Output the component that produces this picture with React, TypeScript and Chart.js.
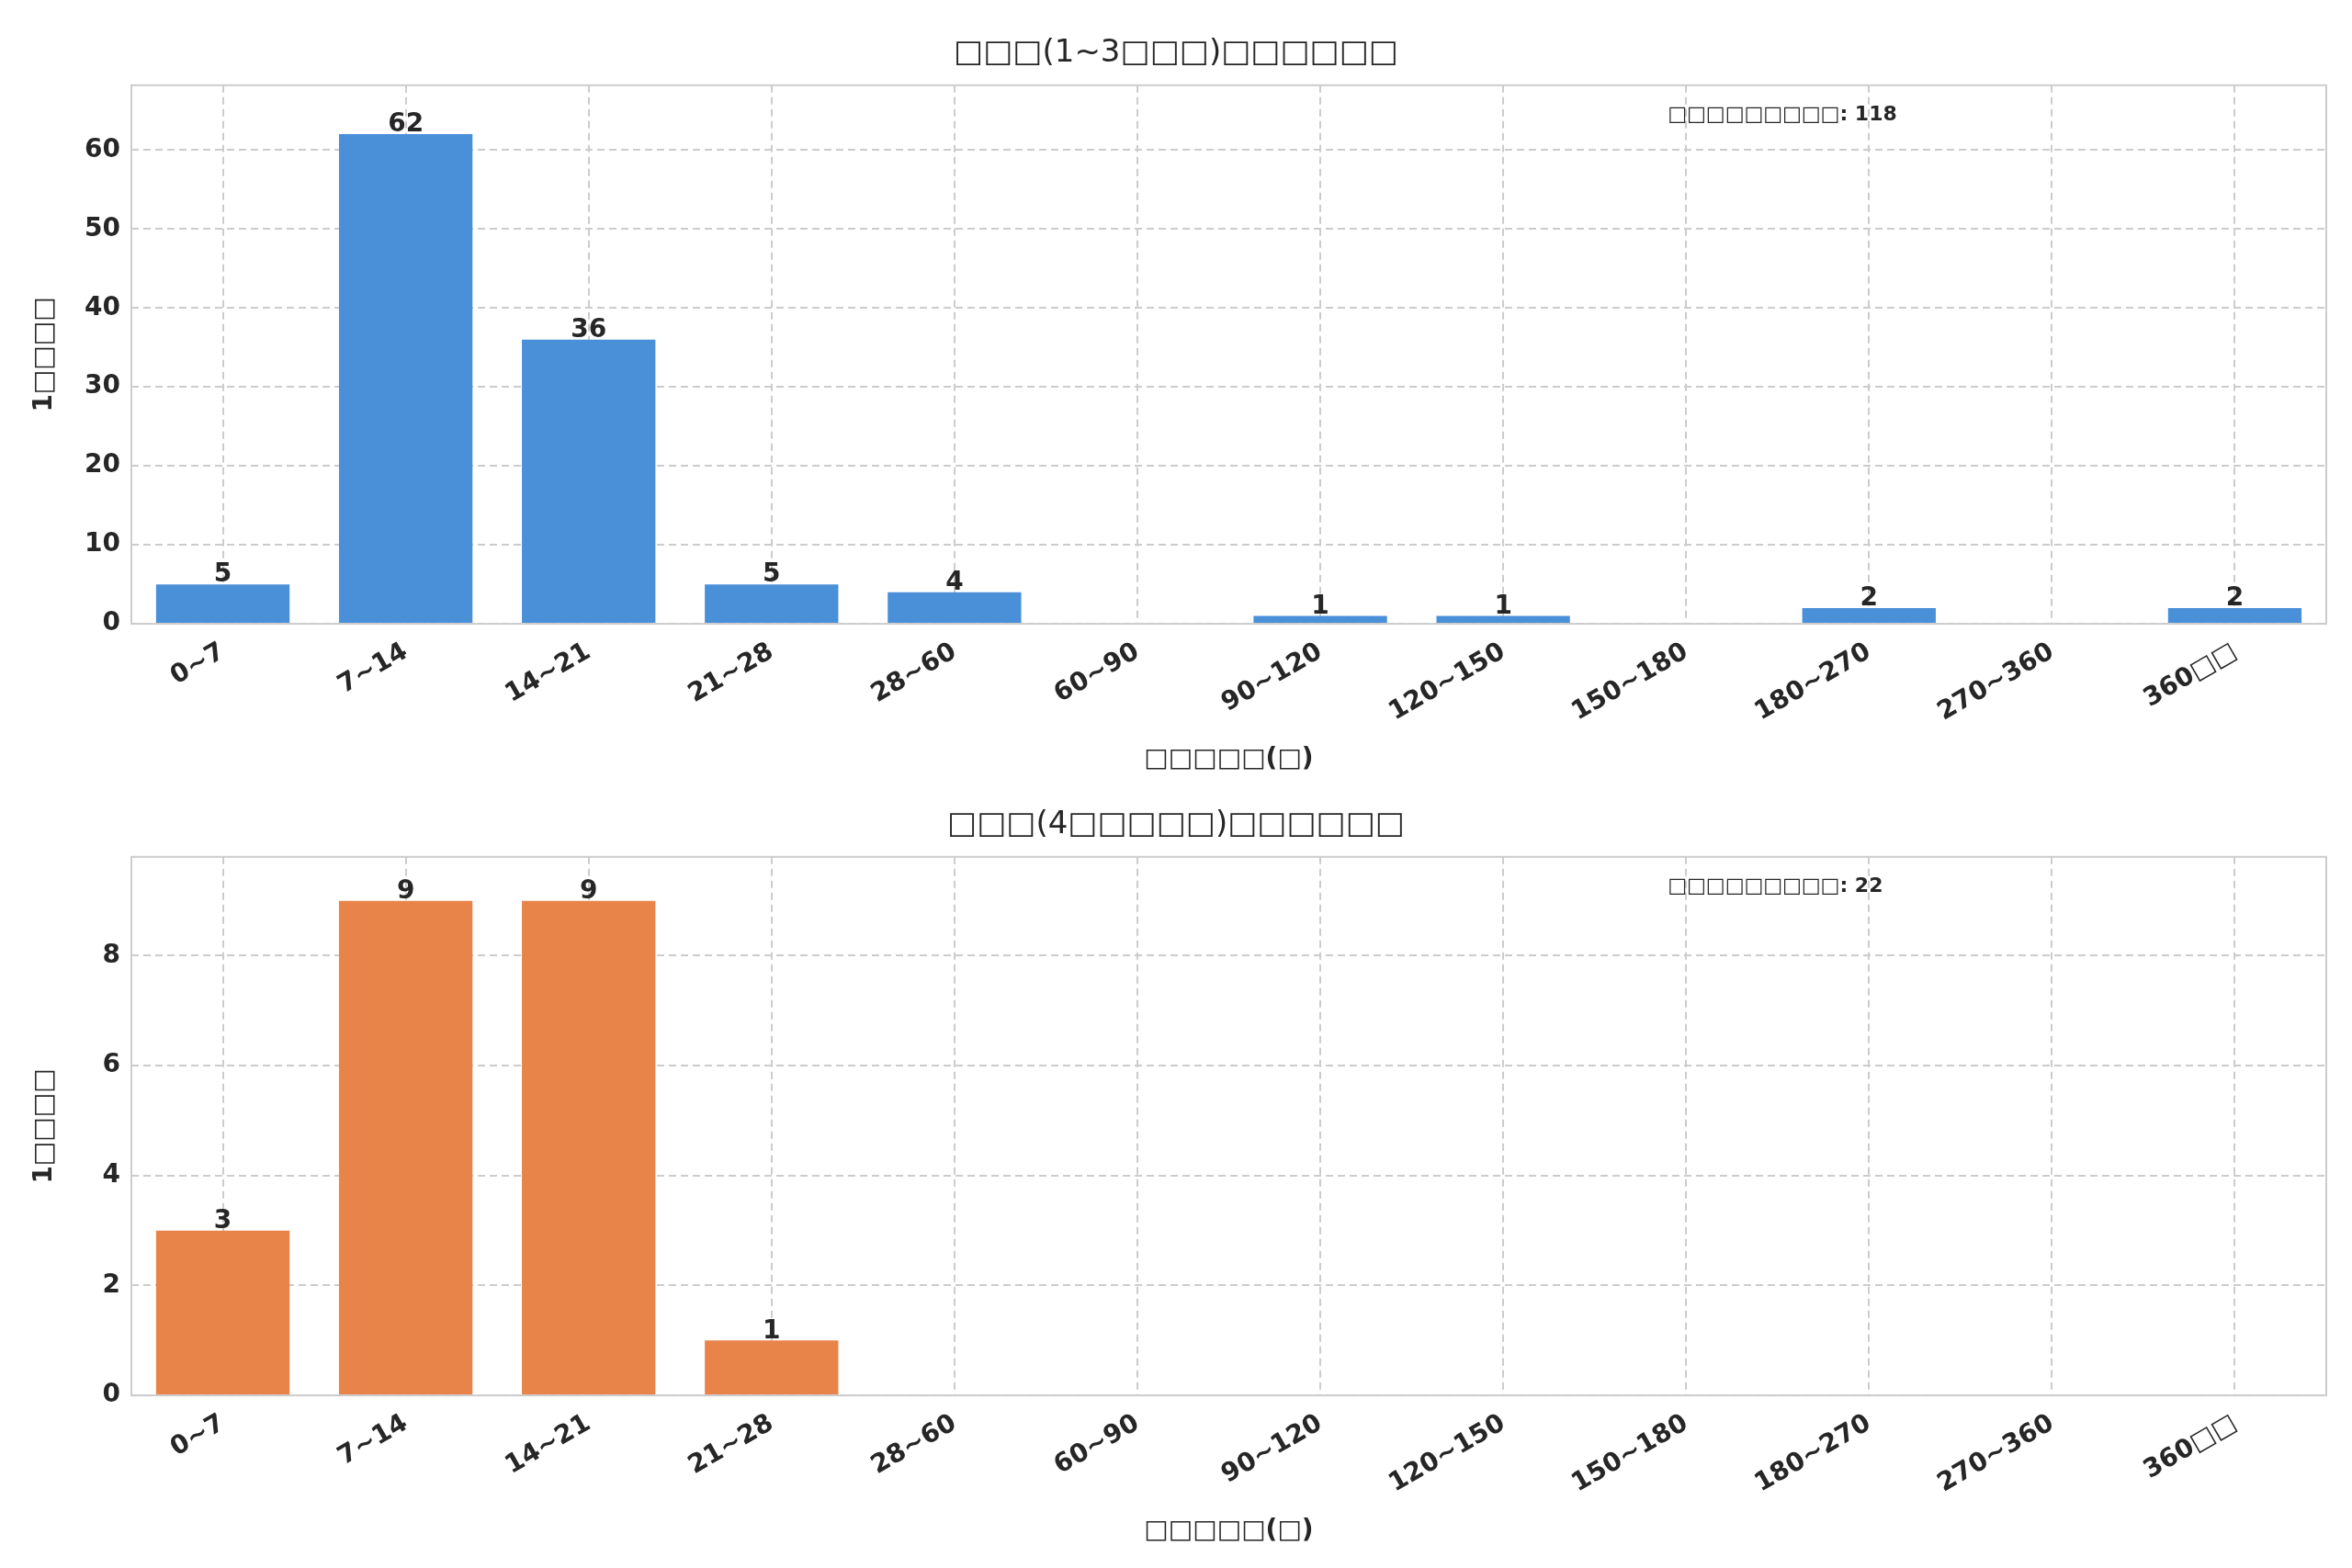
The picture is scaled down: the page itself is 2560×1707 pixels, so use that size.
import React, { useEffect, useRef } from "react";
import { Chart, registerables } from "chart.js";
Chart.register(...registerables);

const categories = ["0~7", "7~14", "14~21", "21~28", "28~60", "60~90", "90~120", "120~150", "150~180", "180~270", "270~360", "360□□"];
const topValues = [5, 62, 36, 5, 4, 0, 1, 1, 0, 2, 0, 2];
const bottomValues = [3, 9, 9, 1, 0, 0, 0, 0, 0, 0, 0, 0];
const topTitle = "□□□(1~3□□□)□□□□□□";
const bottomTitle = "□□□(4□□□□□)□□□□□□";
const xTitle = "□□□□□(□)";
const yTitle = "1□□□□";
const topNote = "□□□□□□□□□: 118";
const bottomNote = "□□□□□□□□□: 22";

const FONT = "'DejaVu Sans', sans-serif";

const labelPlugin = {
  id: "labels",
  afterDatasetsDraw(chart: any, _a: any, opts: any) {
    const ctx = chart.ctx;
    const meta = chart.getDatasetMeta(0);
    ctx.save();
    ctx.font = `bold 28px ${FONT}`;
    ctx.fillStyle = "#262626";
    ctx.textAlign = "center";
    ctx.textBaseline = "bottom";
    meta.data.forEach((bar: any, i: number) => {
      const v = chart.data.datasets[0].data[i];
      if (v > 0) ctx.fillText(String(v), bar.x, bar.y + 4);
    });
    const a = chart.chartArea;
    ctx.font = `bold 22px ${FONT}`;
    ctx.textAlign = "left";
    ctx.textBaseline = "middle";
    ctx.fillText(opts.note, a.left + (a.right - a.left) * 0.7, a.top + (a.bottom - a.top) * 0.055);
    ctx.strokeStyle = "#cccccc";
    ctx.lineWidth = 2;
    ctx.setLineDash([]);
    ctx.strokeRect(a.left, a.top, a.right - a.left, a.bottom - a.top);
    ctx.restore();
  },
};

function BarChart({ values, color, title, note, max, step }: any) {
  const ref = useRef<HTMLCanvasElement>(null);
  useEffect(() => {
    const chart = new Chart(ref.current!, {
      type: "bar",
      data: {
        labels: categories,
        datasets: [{ data: values, backgroundColor: color, categoryPercentage: 0.73, barPercentage: 1 }],
      },
      options: {
        animation: false,
        responsive: false,
        layout: { padding: { left: 20, right: 20, top: 10, bottom: 0 } },
        plugins: {
          legend: { display: false },
          tooltip: { enabled: false },
          title: { display: true, text: title, font: { family: FONT, size: 34, weight: "normal" }, color: "#262626", padding: { top: 20, bottom: 14 } },
          labels: { note },
        } as any,
        scales: {
          x: {
            offset: true,
            grid: { color: "#cccccc", lineWidth: 2, offset: false, tickLength: 0 } as any,
            border: { display: false, dash: [8, 5] } as any,
            ticks: { font: { family: FONT, size: 28, weight: "bold" }, color: "#262626", maxRotation: 30, minRotation: 30, padding: 14 },
            title: { display: true, text: xTitle, font: { family: FONT, size: 28, weight: "bold" }, color: "#262626", padding: { top: 4 } },
          },
          y: {
            min: 0,
            max,
            afterFit: (s: any) => { s.width = 115; },
            afterBuildTicks: (s: any) => { s.ticks = s.ticks.filter((t: any) => t.value % step === 0); },
            grid: { color: "#cccccc", lineWidth: 2, tickLength: 0 },
            border: { display: false, dash: [8, 5] } as any,
            ticks: { stepSize: step, font: { family: FONT, size: 28, weight: "bold" }, color: "#262626", padding: 12 },
            title: { display: true, text: yTitle, font: { family: FONT, size: 28, weight: "bold" }, color: "#262626" },
          },
        },
      },
      plugins: [labelPlugin],
    });
    return () => chart.destroy();
  }, []);
  return <canvas ref={ref} width={2544} height={840} style={{ display: "block" }} />;
}

export default function App() {
  return (
    <div style={{ background: "#fff" }}>
      <BarChart values={topValues} color="#4a90d9" title={topTitle} note={topNote} max={68.2} step={10} />
      <BarChart values={bottomValues} color="#e8844a" title={bottomTitle} note={bottomNote} max={9.8} step={2} />
    </div>
  );
}
